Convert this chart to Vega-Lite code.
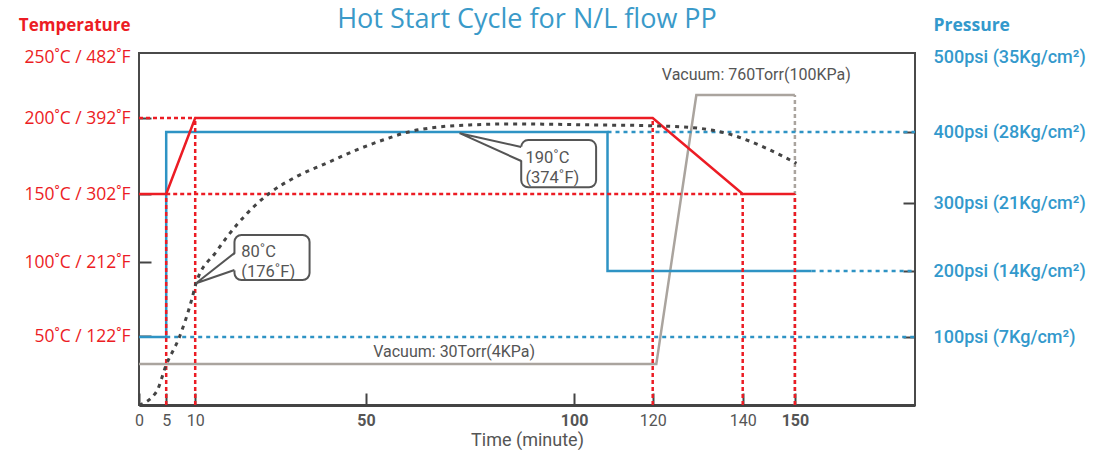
{
  "$schema": "https://vega.github.io/schema/vega-lite/v6.json",
  "width": 776,
  "height": 352,
  "autosize": "none",
  "padding": {"left": 139, "top": 53, "right": 179, "bottom": 45},
  "background": "white",
  "config": {
    "font": "Roboto",
    "view": {"stroke": "#4a4a4a", "strokeWidth": 2},
    "axis": {"grid": false, "domain": false, "tickColor": "#444444", "tickWidth": 2}
  },
  "title": {
    "text": "Hot Start Cycle for N/L flow PP",
    "font": "Open Sans",
    "fontSize": 27,
    "fontWeight": "normal",
    "color": "#3a9ac9",
    "anchor": "middle",
    "frame": "group",
    "baseline": "alphabetic",
    "offset": -39
  },
  "datasets": {
    "temp": [{"t":0,"T":150},{"t":5,"T":150},{"t":10,"T":200},{"t":120,"T":200},{"t":140,"T":150},{"t":150,"T":150}],
    "curve": [{"t":0,"T":0},{"t":3.2,"T":9.6},{"t":5,"T":29},{"t":7.3,"T":49.5},{"t":9.3,"T":73.2},{"t":10.2,"T":85.6},{"t":14.9,"T":107.4},{"t":19.9,"T":127.9},{"t":23.9,"T":141.2},{"t":27.4,"T":150.5},{"t":33.7,"T":161.4},{"t":40.7,"T":170.2},{"t":47.7,"T":178.9},{"t":54.1,"T":185.5},{"t":60.5,"T":191},{"t":66.9,"T":193.9},{"t":74.9,"T":195.4},{"t":85.2,"T":196.1},{"t":106.5,"T":195.4},{"t":120,"T":194.9},{"t":130.4,"T":193.2},{"t":137.7,"T":188.8},{"t":144.5,"T":180.1},{"t":150.3,"T":170.2}],
    "t_guides": [
      {"t":0,"t2":10,"T":200,"T2":200},
      {"t":5,"t2":140,"T":150,"T2":150},
      {"t":5,"t2":5,"T":0,"T2":150},
      {"t":10,"t2":10,"T":0,"T2":200},
      {"t":120,"t2":120,"T":0,"T2":200},
      {"t":140,"t2":140,"T":0,"T2":150},
      {"t":150,"t2":150,"T":0,"T2":150}
    ],
    "p_guides": [{"t":5,"t2":173,"P":100},{"t":108.5,"t2":173,"P":400},{"t":153.2,"t2":173,"P":200}],
    "pressure": [{"t":0,"P":100},{"t":5,"P":100},{"t":5,"P":400},{"t":108.5,"P":400},{"t":108.5,"P":200},{"t":153.2,"P":200}],
    "vacuum": [{"t":0,"V":30},{"t":120.8,"V":30},{"t":129.7,"V":760},{"t":150,"V":760}],
    "vac_drop": [{"t":150,"V":-81,"V2":760}],
    "vac_labels": [{"t":71.2,"V":63,"label":"Vacuum: 30Torr(4KPa)"},{"t":142.6,"V":814,"label":"Vacuum: 760Torr(100KPa)"}],
    "boxes": [{"t":19.2,"t2":36.8,"T":119.9,"T2":87.8},{"t":87.3,"t2":105.6,"T":185.5,"T2":154.4}],
    "wedge": [{"c":"a","t":10.2,"T":85.6,"T2":85.6},{"c":"a","t":19.7,"T":94.6,"T2":106.6},{"c":"b","t":72.5,"T":190,"T2":190},{"c":"b","t":87.8,"T":171.7,"T2":180.9}],
    "wedge_edges": [{"c":"a","t":19.2,"T":106.6},{"c":"a","t":10.2,"T":85.6},{"c":"a","t":19.2,"T":94.6},{"c":"b","t":87.3,"T":180.9},{"c":"b","t":72.5,"T":190},{"c":"b","t":87.3,"T":171.7}],
    "notes": [{"t":20.8,"T":107.6,"label":"80˚C\n(176˚F)"},{"t":88.3,"T":173.7,"label":"190˚C\n(374˚F)"}]
  },
  "encoding": {
    "x": {
      "field": "t",
      "type": "quantitative",
      "scale": {"domain": [0,5,10,50,100,120,140,150,173], "range": [0,27.2,56.2,226.9,435.1,513.7,603.7,655.9,776], "nice": false, "zero": false},
      "axis": {
        "values": [0,5,10,50,100,120,140,150],
        "title": "Time (minute)",
        "titleFontSize": 18,
        "titleFontWeight": "normal",
        "titleColor": "#555555",
        "titlePadding": 3,
        "labelFontSize": 16,
        "labelColor": "#555555",
        "labelFontWeight": {"condition": {"test": "datum.value == 50 || datum.value == 100 || datum.value == 150", "value": "bold"}, "value": "normal"},
        "labelFlush": false,
        "labelOverlap": false,
        "tickSize": -12,
        "labelPadding": 19,
        "domain": true,
        "domainColor": "#444444",
        "domainWidth": 3
      }
    }
  },
  "layer": [
    {
      "encoding": {"y": {"field": "V", "type": "quantitative", "scale": {"domain": [-81, 874], "nice": false, "zero": false}, "axis": null}},
      "layer": [
        {"data": {"name": "vac_drop"}, "mark": {"type": "rule", "color": "#aaa49e", "strokeWidth": 2.5, "strokeDash": [4, 3]}, "encoding": {"y2": {"field": "V2"}}},
        {"data": {"name": "vacuum"}, "mark": {"type": "line", "color": "#aaa49e", "strokeWidth": 2.5}, "encoding": {"order": {"value": null}}},
        {"data": {"name": "vac_labels"}, "mark": {"type": "text", "fontSize": 16, "color": "#555555"}, "encoding": {"text": {"field": "label"}}}
      ]
    },
    {
      "encoding": {
        "y": {
          "field": "P",
          "type": "quantitative",
          "scale": {"domain": [0,100,200,300,400,500], "range": [352,284,218,150,79,4], "nice": false, "zero": false},
          "axis": {
            "orient": "right",
            "values": [100,200,300,400,500],
            "labelExpr": "datum.value + 'psi (' + round(datum.value*0.07) + 'Kg/cm²)'",
            "labelColor": "#3399cc",
            "labelFontSize": 18,
            "labelFontWeight": 500,
            "labelPadding": 30,
            "tickSize": -12,
            "tickOpacity": {"condition": {"test": "datum.value == 500", "value": 0}, "value": 1},
            "title": "Pressure",
            "titleFont": "Open Sans",
            "titleAngle": 0,
            "titleAlign": "left",
            "titleBaseline": "middle",
            "titleX": 18,
            "titleY": -28,
            "titleColor": "#3399cc",
            "titleFontSize": 17.5,
            "titleFontWeight": "bold"
          }
        }
      },
      "layer": [
        {"data": {"name": "p_guides"}, "mark": {"type": "rule", "color": "#2e93c4", "strokeWidth": 2.5, "strokeDash": [4, 4]}, "encoding": {"x2": {"field": "t2"}}},
        {"data": {"name": "pressure"}, "mark": {"type": "line", "color": "#2e93c4", "strokeWidth": 2.5}, "encoding": {"order": {"value": null}}}
      ]
    },
    {
      "encoding": {
        "y": {
          "field": "T",
          "type": "quantitative",
          "scale": {"domain": [0,50,100,150,200,250], "range": [352,283,209,141,65,4], "nice": false, "zero": false},
          "axis": {
            "orient": "left",
            "values": [50,100,150,200,250],
            "labelExpr": "datum.value + '˚C / ' + (datum.value*9/5+32) + '˚F'",
            "labelFont": "Open Sans",
            "labelColor": "#ec1c24",
            "labelFontSize": 17.5,
            "labelPadding": 21,
            "tickSize": -12,
            "tickOpacity": {"condition": {"test": "datum.value == 250", "value": 0}, "value": 1},
            "title": "Temperature",
            "titleFont": "Open Sans",
            "titleAngle": 0,
            "titleAlign": "right",
            "titleBaseline": "middle",
            "titleX": -9,
            "titleY": -28,
            "titleColor": "#ec1c24",
            "titleFontSize": 17,
            "titleFontWeight": "bold"
          }
        }
      },
      "layer": [
        {"data": {"name": "t_guides"}, "mark": {"type": "rule", "color": "#ec1c24", "strokeWidth": 2.5, "strokeDash": [4, 3]}, "encoding": {"x2": {"field": "t2"}, "y2": {"field": "T2"}}},
        {"data": {"name": "temp"}, "mark": {"type": "line", "color": "#ec1c24", "strokeWidth": 2.5}, "encoding": {"order": {"value": null}}},
        {"data": {"name": "curve"}, "mark": {"type": "line", "color": "#444444", "strokeWidth": 3, "strokeDash": [4, 5], "interpolate": "monotone"}},
        {"data": {"name": "boxes"}, "mark": {"type": "rect", "fill": "white", "stroke": "#555555", "strokeWidth": 2, "cornerRadius": 7}, "encoding": {"x2": {"field": "t2"}, "y2": {"field": "T2"}}},
        {"data": {"name": "wedge"}, "mark": {"type": "area", "fill": "white", "opacity": 1}, "encoding": {"y2": {"field": "T2"}, "detail": {"field": "c"}}},
        {"data": {"name": "wedge_edges"}, "mark": {"type": "line", "color": "#555555", "strokeWidth": 2}, "encoding": {"detail": {"field": "c"}, "order": {"value": null}}},
        {"data": {"name": "notes"}, "mark": {"type": "text", "align": "left", "baseline": "middle", "fontSize": 16.5, "color": "#555555", "lineBreak": "\n", "lineHeight": 20}, "encoding": {"text": {"field": "label"}}}
      ]
    }
  ],
  "resolve": {"scale": {"y": "independent"}, "axis": {"y": "independent"}}
}
